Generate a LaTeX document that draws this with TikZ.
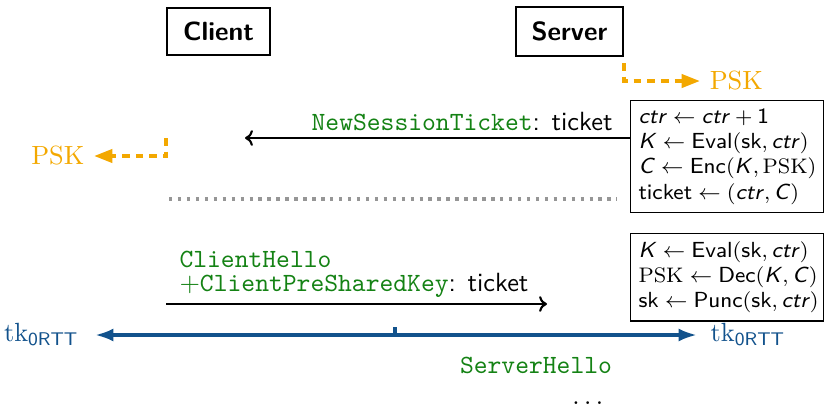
\documentclass[tikz,border=0pt]{standalone}
\usepackage{amsmath}
\usetikzlibrary{arrows.meta}
\definecolor{pskorange}{RGB}{243,168,0}
\definecolor{tkblue}{RGB}{18,82,140}
\definecolor{msggreen}{RGB}{20,130,20}
\definecolor{sepgray}{RGB}{150,150,150}
\newcommand{\sfit}[1]{\textsf{\textit{#1}}}
\newcommand{\sfup}[1]{\textsf{#1}}
\begin{document}
\begin{tikzpicture}[x=0.38pt,y=-0.38pt,
  party/.style={draw, line width=0.8pt, font=\sffamily\bfseries, inner xsep=6pt, inner ysep=5.5pt},
  compbox/.style={draw, line width=0.5pt, anchor=north west, align=left,
    font=\fontsize{8.3}{9.6}\selectfont\sffamily, inner xsep=3pt, inner ysep=3pt, text width=67.3pt},
  msg/.style={line width=0.8pt, -{To[length=3pt,width=6pt]}},
  msglabel/.style={inner sep=0pt, font=\sffamily},
  orangedash/.style={pskorange, line width=1.4pt, dash pattern=on 2.9pt off 2.3pt, -{Triangle[length=7pt,width=5pt]}},
  psklabel/.style={text=pskorange, inner xsep=3.5pt},
  sepline/.style={sepgray, line width=1.3pt, dash pattern=on 1.3pt off 2.1pt},
  keyline/.style={tkblue, line width=1.5pt},
  tklabel/.style={text=tkblue},
  tt/.style={font=\ttfamily, text=msggreen, inner sep=0pt}
]
\useasboundingbox (0,0) rectangle (825,403);

% parties
\node[party] (client) at (218.5,31.5) {Client};
\node[party] (server) at (569.5,31.5) {Server};

% server computation boxes
\node[compbox] (box1) at (630,100) {%
\mbox{$\sfit{ctr} \leftarrow \sfit{ctr} + \sfup{1}$}\\
\mbox{$\sfit{K} \leftarrow \sfup{Eval}(\sfup{sk}, \sfit{ctr})$}\\
\mbox{$\sfit{C} \leftarrow \sfup{Enc}(\sfit{K}, \mathrm{PSK})$}\\
\mbox{$\sfup{ticket} \leftarrow (\sfit{ctr}, \sfit{C})$}};

\node[compbox] (box2) at (630,233) {%
\mbox{$\sfit{K} \leftarrow \sfup{Eval}(\sfup{sk}, \sfit{ctr})$}\\
\mbox{$\mathrm{PSK} \leftarrow \sfup{Dec}(\sfit{K}, \sfit{C})$}\\
\mbox{$\sfup{sk} \leftarrow \sfup{Punc}(\sfup{sk}, \sfit{ctr})$}};

% PSK derived at server
\node[psklabel, anchor=west] (pskR) at (700,81) {$\mathrm{PSK}$};
\draw[orangedash] (server.east |- 0,63) -- (server.east |- 0,81) -- (pskR.west);

% NewSessionTicket
\coordinate (nstend) at (245,138);
\draw[msg] (box1.west |- nstend) -- (nstend);
\node[msglabel, anchor=base east] (nstlabel) at (613,130)
  {{\ttfamily\color{msggreen}NewSessionTicket}: ticket};

% PSK stored at client
\node[psklabel, anchor=east] (pskL) at (94,156) {$\mathrm{PSK}$};
\draw[orangedash] (client.west |- nstend) -- (client.west |- 0,156) -- (pskL.east);

% separator
\coordinate (sepL) at (169,199);
\coordinate (sepR) at (617,199);
\draw[sepline] (sepL) -- (sepR);

% ClientHello
\node[tt, anchor=base west] (ch) at (179,267) {ClientHello};
\node[msglabel, anchor=base west] (cpsk) at (179,291)
  {{\color{msggreen}$+$\ttfamily ClientPreSharedKey}: ticket};
\coordinate (c2send) at (547,304);
\draw[msg] (client.west |- c2send) -- (c2send);

% 0-RTT key
\node[tklabel, anchor=east, inner xsep=6pt] (tkL) at (95,335) {$\mathrm{tk}_{\textsf{0RTT}}$};
\node[tklabel, anchor=west, inner xsep=5pt] (tkR) at (697,335) {$\mathrm{tk}_{\textsf{0RTT}}$};
\draw[keyline, {Latex[length=7pt,width=5pt]}-{Latex[length=7pt,width=5pt]}] (tkL.east) -- (tkR.west);
\coordinate (tick) at (395,335);
\draw[keyline] (tick) -- ++(0,-8);

% ServerHello
\node[tt] (sh) at (536,365) {ServerHello};
\node[anchor=base, inner sep=0pt] (dots) at (590,404) {$\dots$};
\end{tikzpicture}
\end{document}
